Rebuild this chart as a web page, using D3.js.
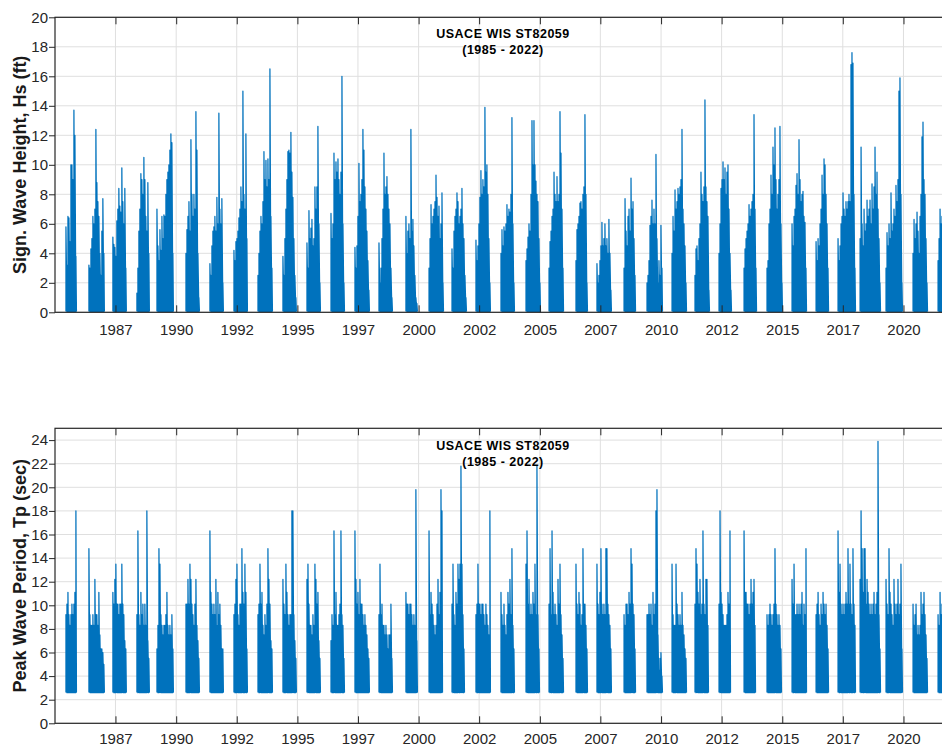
<!DOCTYPE html>
<html>
<head>
<meta charset="utf-8">
<script src="https://cdn.jsdelivr.net/npm/d3@7"></script>
<style>
  html, body { margin: 0; padding: 0; background: #fff; }
  svg { display: block; }
  text { font-family: Arial, "Liberation Sans", Helvetica, sans-serif; }
</style>
</head>
<body>
<svg id="chart" width="942" height="747"></svg>
<script>
// USACE WIS station ST82059 hindcast, ice-free seasons 1985-2021.
// Each season: start date, then one maximum value per 15-day window.
const SAMPLE_DAYS = 15;

const seasonStart = [
  "1985-06-15", "1986-05-27", "1987-05-23", "1988-05-19", "1989-03-17",
  "1990-05-28", "1991-05-24", "1992-05-20", "1993-05-17", "1994-05-28",
  "1995-05-25", "1996-05-21", "1997-05-17", "1998-05-14", "1999-06-24",
  "2000-06-06", "2001-05-18", "2002-05-14", "2003-05-26", "2004-06-06",
  "2005-05-19", "2006-06-29", "2007-05-11", "2008-06-22", "2009-06-03",
  "2010-06-15", "2011-05-27", "2012-05-23", "2013-06-04", "2014-05-16",
  "2015-05-28", "2016-05-24", "2017-04-20", "2018-03-18", "2019-04-13",
  "2020-05-24", "2021-06-05"
];

// Significant wave height Hs (ft), 15-day maxima
const hsSeason = [
  [5.8, 3.2, 6.5, 6.4, 4.8, 10.0, 10.0, 9.0, 13.7, 12.0, 3.8],
  [3.2, 3.0, 4.3, 5.0, 6.5, 6.0, 7.0, 12.4, 8.8, 7.5, 6.5, 4.0, 2.5, 5.5, 7.7, 4.0],
  [5.1, 4.6, 4.4, 3.8, 6.2, 7.0, 8.4, 7.2, 6.8, 9.8, 7.5, 6.0, 8.4, 3.0],
  [1.3, 3.0, 5.5, 7.0, 9.4, 9.0, 8.0, 10.5, 9.0, 6.5, 5.5, 8.8, 4.0],
  [7.0, 4.5, 3.5, 5.6, 4.2, 6.5, 5.0, 6.6, 6.5, 8.0, 9.0, 9.5, 10.0, 11.0, 12.1, 11.5, 4.0],
  [4.0, 5.6, 6.5, 7.5, 5.5, 11.7, 8.0, 6.5, 8.0, 7.0, 13.6, 11.0, 4.0, 1.0],
  [3.3, 2.5, 4.5, 5.5, 5.8, 6.5, 5.5, 7.8, 6.0, 13.5, 7.0, 6.0, 7.7, 2.0],
  [4.2, 3.5, 4.8, 5.0, 5.5, 6.4, 7.0, 8.5, 7.5, 15.0, 8.0, 7.0, 12.1, 5.0],
  [2.5, 4.0, 5.5, 6.5, 6.0, 7.5, 10.9, 9.0, 10.3, 8.5, 10.4, 9.0, 16.5, 6.5, 3.0],
  [3.8, 2.5, 5.0, 7.0, 9.0, 10.9, 11.0, 10.8, 12.2, 9.5, 7.8, 5.0, 2.5, 1.0],
  [4.7, 3.0, 6.9, 5.0, 5.7, 6.3, 4.5, 5.0, 8.5, 7.0, 8.5, 12.6, 6.0, 2.0],
  [6.7, 5.0, 6.0, 10.8, 9.0, 10.2, 9.5, 10.4, 9.0, 8.0, 9.5, 16.0, 6.0, 2.0],
  [4.4, 3.0, 4.5, 6.5, 10.1, 7.5, 8.0, 9.0, 12.4, 11.0, 8.5, 7.0, 5.5, 3.5, 1.5],
  [4.7, 2.0, 3.0, 5.0, 7.0, 10.8, 8.0, 8.5, 9.2, 8.0, 7.0, 6.0, 3.0, 1.0],
  [6.5, 4.0, 5.5, 6.0, 5.0, 12.4, 5.5, 6.3, 4.5, 2.5, 1.0, 0.6],
  [3.0, 5.0, 7.3, 6.0, 6.5, 7.0, 7.5, 9.3, 7.8, 6.5, 7.2, 5.0, 6.0, 8.1, 2.0],
  [4.3, 3.0, 5.5, 6.5, 7.0, 8.1, 7.5, 6.0, 6.5, 7.0, 8.4, 6.0, 5.0, 2.5, 1.0],
  [4.9, 3.5, 4.5, 6.0, 7.8, 9.6, 8.0, 9.0, 8.5, 13.9, 9.5, 10.0, 8.0, 5.0, 2.0],
  [4.0, 5.6, 4.5, 5.8, 5.5, 6.0, 7.3, 6.5, 7.0, 6.8, 8.0, 13.2, 6.0, 2.0],
  [3.5, 4.3, 5.1, 6.0, 5.5, 8.0, 13.0, 10.0, 13.0, 10.0, 8.9, 8.0, 7.5, 5.0, 2.0],
  [3.0, 4.8, 5.5, 6.5, 7.0, 9.5, 8.0, 7.5, 9.2, 7.5, 8.0, 13.6, 10.8, 7.0, 3.0],
  [3.5, 5.6, 6.0, 6.5, 7.4, 7.5, 7.0, 8.0, 8.5, 13.4, 8.0, 2.0],
  [3.3, 2.0, 2.5, 3.5, 4.5, 6.1, 4.5, 5.0, 6.0, 4.5, 5.0, 4.0, 6.3, 4.0, 1.5],
  [3.0, 7.7, 5.5, 4.5, 6.5, 7.0, 5.5, 9.1, 7.0, 7.5, 5.0, 2.5],
  [2.0, 2.5, 3.5, 5.9, 6.5, 7.6, 6.0, 7.0, 6.0, 10.7, 5.0, 2.0, 3.5, 2.5, 5.9, 3.0],
  [4.0, 6.5, 5.5, 8.3, 7.0, 7.5, 8.4, 8.0, 8.5, 9.0, 12.4, 7.0, 6.0, 4.5, 2.0],
  [2.5, 4.3, 4.5, 3.5, 5.0, 6.0, 9.5, 8.0, 7.5, 8.5, 14.4, 8.5, 7.5, 6.5, 1.5],
  [4.0, 6.0, 8.4, 9.0, 10.2, 9.0, 9.8, 8.0, 9.5, 10.0, 7.0, 4.0, 1.5],
  [3.0, 4.3, 5.0, 5.5, 6.0, 7.3, 6.5, 7.0, 7.5, 8.0, 13.4, 7.0, 3.0],
  [3.0, 3.5, 6.0, 7.0, 9.3, 8.0, 11.2, 10.0, 12.5, 9.0, 7.0, 8.0, 9.0, 12.6, 6.0, 2.0],
  [6.0, 4.5, 6.5, 7.0, 8.6, 9.4, 8.0, 11.7, 9.0, 7.5, 8.0, 8.2, 6.5, 6.1, 3.0],
  [4.8, 3.5, 5.0, 4.5, 6.0, 7.0, 9.3, 8.0, 10.4, 10.0, 8.0, 6.0, 3.0],
  [5.0, 3.5, 4.5, 6.0, 6.5, 8.1, 7.0, 6.5, 7.5, 7.0, 7.5, 8.0, 7.5, 16.8, 17.6, 16.9, 8.0, 3.0],
  [5.0, 11.2, 6.0, 4.5, 7.0, 5.5, 6.0, 7.6, 6.5, 7.0, 7.6, 6.0, 8.7, 7.0, 8.5, 11.2, 8.0, 9.5, 7.0, 5.0, 2.0],
  [3.0, 5.4, 4.5, 6.0, 5.0, 8.1, 5.5, 6.0, 7.0, 6.5, 8.6, 7.5, 9.0, 15.0, 15.9, 8.0, 2.0],
  [4.0, 6.3, 5.0, 6.0, 6.8, 5.5, 4.0, 6.5, 8.0, 11.9, 12.9, 9.0, 8.0, 5.0, 2.0],
  [3.5, 5.0, 7.0, 6.0, 6.5]
];

// Peak wave period Tp (sec), 15-day maxima
const tpSeason = [
  [9.2, 10.1, 11.1, 9.2, 8.3, 9.2, 10.1, 9.2, 10.1, 11.1, 18.0],
  [14.8, 9.2, 8.3, 8.3, 9.2, 8.3, 12.2, 9.2, 9.2, 8.3, 11.1, 7.5, 6.3, 6.3, 6.0, 5.0],
  [11.1, 10.1, 12.2, 13.5, 10.1, 10.1, 9.2, 10.1, 10.1, 13.5, 10.1, 9.2, 7.0, 6.3],
  [9.2, 16.3, 9.2, 8.3, 11.1, 9.2, 10.1, 8.3, 10.1, 8.3, 18.0, 7.0, 5.5],
  [6.3, 8.3, 14.8, 13.5, 9.2, 8.3, 7.5, 8.3, 8.3, 9.2, 11.1, 8.3, 7.5, 8.3, 7.5, 9.2, 6.3],
  [10.1, 10.1, 12.2, 10.1, 13.5, 12.2, 10.1, 9.2, 8.3, 10.1, 12.2, 8.3, 7.0, 5.5],
  [16.3, 11.1, 10.1, 9.2, 10.1, 9.2, 12.2, 8.3, 11.1, 9.2, 10.1, 8.3, 6.3, 6.3],
  [9.2, 10.1, 12.2, 13.5, 9.2, 8.3, 10.1, 10.1, 14.8, 11.1, 10.1, 13.5, 11.1, 6.3],
  [9.2, 10.1, 13.5, 10.1, 11.1, 8.3, 7.5, 9.2, 8.3, 10.1, 14.8, 12.2, 10.1, 7.0, 6.3],
  [12.2, 10.1, 9.2, 13.5, 11.1, 9.2, 8.3, 9.2, 9.2, 18.0, 18.0, 9.2, 7.0, 5.5],
  [12.2, 13.5, 10.1, 8.3, 8.3, 7.5, 9.2, 8.3, 13.5, 12.2, 10.1, 11.1, 7.0, 5.5],
  [7.0, 9.2, 8.3, 16.3, 9.2, 11.1, 8.3, 8.3, 9.2, 10.1, 16.3, 9.2, 8.3, 5.5],
  [16.3, 12.2, 10.1, 11.1, 9.2, 12.2, 10.1, 10.1, 9.2, 8.3, 9.2, 8.3, 7.5, 6.3, 5.5],
  [9.2, 13.5, 9.2, 10.1, 8.3, 8.3, 7.5, 8.3, 7.5, 6.3, 7.5, 7.5, 10.1, 5.5],
  [11.1, 10.1, 10.1, 9.2, 10.1, 10.1, 9.2, 8.3, 9.2, 8.3, 19.8, 7.0],
  [16.3, 9.2, 11.1, 10.1, 9.2, 8.3, 7.5, 8.3, 10.1, 12.2, 9.2, 11.1, 19.8, 18.0],
  [10.1, 13.5, 9.2, 8.3, 11.1, 10.1, 13.5, 12.2, 13.5, 21.8, 13.5, 9.2, 6.3],
  [9.2, 10.1, 13.5, 10.1, 10.1, 9.2, 10.1, 10.1, 9.2, 8.3, 10.1, 9.2, 8.3, 7.5, 18.0],
  [11.1, 9.2, 8.3, 10.1, 8.3, 7.5, 9.2, 11.1, 10.1, 12.2, 9.2, 14.8, 8.3, 6.3],
  [13.5, 16.3, 10.1, 12.2, 9.2, 10.1, 9.2, 11.1, 10.1, 13.5, 9.2, 21.8, 9.2, 6.3],
  [10.1, 14.8, 9.2, 16.3, 11.1, 9.2, 10.1, 9.2, 8.3, 12.2, 10.1, 13.5, 9.2, 7.5, 5.5],
  [13.5, 10.1, 9.2, 11.1, 10.1, 8.3, 9.2, 14.8, 10.1, 10.1, 8.3, 6.3],
  [13.5, 10.1, 9.2, 11.1, 14.8, 10.1, 9.2, 10.1, 9.2, 14.8, 14.8, 10.1, 9.2, 8.3, 6.3],
  [9.2, 8.3, 10.1, 10.1, 9.2, 11.1, 10.1, 14.8, 13.5, 10.1, 9.2, 6.3],
  [9.2, 9.2, 10.1, 9.2, 10.1, 8.3, 11.1, 9.2, 10.1, 18.0, 19.8, 7.5, 4.5, 5.5, 6.0, 4.0],
  [13.5, 9.2, 8.3, 8.3, 13.5, 10.1, 9.2, 8.3, 9.2, 8.3, 11.1, 8.3, 7.5, 6.3, 5.5],
  [10.1, 14.8, 13.5, 11.1, 10.1, 12.2, 9.2, 10.1, 16.3, 10.1, 9.2, 12.2, 12.2, 8.3],
  [10.1, 18.0, 11.1, 10.1, 9.2, 8.3, 8.3, 8.3, 9.2, 11.1, 10.1, 16.3],
  [16.3, 11.1, 11.1, 10.1, 10.1, 9.2, 10.1, 12.2, 10.1, 11.1, 12.2, 8.3],
  [9.2, 8.3, 9.2, 10.1, 9.2, 8.3, 9.2, 10.1, 14.8, 10.1, 9.2, 8.3, 9.2, 8.3, 6.3],
  [12.2, 10.1, 13.5, 9.2, 9.2, 10.1, 9.2, 10.1, 9.2, 10.1, 11.1, 8.3, 10.1, 9.2, 14.8],
  [9.2, 10.1, 11.1, 9.2, 8.3, 10.1, 9.2, 11.1, 10.1, 9.2, 10.1, 8.3, 6.3],
  [16.3, 11.1, 13.5, 10.1, 9.2, 10.1, 9.2, 10.1, 11.1, 10.1, 14.8, 10.1, 13.5, 10.1, 9.2, 14.8, 10.1, 8.3],
  [12.2, 18.0, 14.8, 11.1, 14.8, 14.8, 10.1, 12.2, 11.1, 10.1, 9.2, 10.1, 9.2, 10.1, 11.1, 9.2, 10.1, 11.1, 23.9, 9.2, 6.3],
  [12.2, 10.1, 9.2, 14.8, 11.1, 10.1, 9.2, 8.3, 12.2, 10.1, 9.2, 10.1, 12.2, 9.2, 10.1, 13.5, 6.3],
  [10.1, 8.3, 9.2, 10.1, 7.5, 8.3, 7.5, 8.3, 11.1, 9.2, 10.1, 11.1, 9.2, 7.5, 5.5],
  [9.2, 8.3, 11.1, 9.2, 10.1]
];

// Lowest value reached within each 15-day window
const hsFloor = 0.05;
const tpFloor = 2.6;

// Time axis ticks
const xTickDates = [
  "1987-07-01", "1990-01-01", "1992-07-01", "1995-01-01", "1997-07-01",
  "2000-01-01", "2002-07-01", "2005-01-01", "2007-07-01", "2010-01-01",
  "2012-07-01", "2015-01-01", "2017-07-01", "2020-01-01"
];
const xTickLabels = ["1987", "1990", "1992", "1995", "1997", "2000", "2002",
  "2005", "2007", "2010", "2012", "2015", "2017", "2020"];

const hsTicks = [0, 2, 4, 6, 8, 10, 12, 14, 16, 18, 20];
const tpTicks = [0, 2, 4, 6, 8, 10, 12, 14, 16, 18, 20, 22, 24];

const titleLines = ["USACE WIS ST82059", "(1985 - 2022)"];

// ---------------------------------------------------------------------------
const parseDay = d3.utcParse("%Y-%m-%d");
const svg = d3.select("#chart");

const LEFT = 55, RIGHT = 952;
const x = d3.scaleUtc()
  .domain([parseDay("1985-01-01"), parseDay("2022-01-01")])
  .range([LEFT, RIGHT]);
const tickDates = xTickDates.map(parseDay);

const LINE_COLOR = "#0072BD";
const AXIS_COLOR = "#262626";
const GRID_COLOR = "#dfdfdf";

const panels = [
  { top: 17.3, bottom: 312.3, domain: [0, 20], ticks: hsTicks, series: hsSeason,
    floor: hsFloor, label: "Sign. Wave Height, Hs (ft)", titleY: [37.8, 54.3], labelPad: 12.5 },
  { top: 428.3, bottom: 723.3, domain: [0, 25], ticks: tpTicks, series: tpSeason,
    floor: tpFloor, label: "Peak Wave Period, Tp (sec)", titleY: [449.5, 465.5], labelPad: 10.5 }
];

panels.forEach((p, pi) => {
  const y = d3.scaleLinear().domain(p.domain).range([p.bottom, p.top]);
  const g = svg.append("g").attr("class", "panel-" + pi);

  const clipId = "clip-" + pi;
  g.append("clipPath").attr("id", clipId)
    .append("rect")
    .attr("x", LEFT).attr("y", p.top)
    .attr("width", RIGHT - LEFT).attr("height", p.bottom - p.top);

  // grid
  const grid = g.append("g").attr("class", "grid");
  grid.selectAll("line.h").data(p.ticks).join("line")
    .attr("class", "h")
    .attr("x1", LEFT).attr("x2", RIGHT)
    .attr("y1", d => y(d)).attr("y2", d => y(d))
    .attr("stroke", GRID_COLOR).attr("stroke-width", 1);
  grid.selectAll("line.v").data(tickDates).join("line")
    .attr("class", "v")
    .attr("x1", d => x(d)).attr("x2", d => x(d))
    .attr("y1", p.top).attr("y2", p.bottom)
    .attr("stroke", GRID_COLOR).attr("stroke-width", 1);

  // series: per window, a rise from the window minimum to its maximum
  const line = d3.line().x(d => x(d[0])).y(d => y(d[1]));
  const seasonPoints = p.series.map((vals, si) => {
    const start = parseDay(seasonStart[si]);
    const pts = [];
    vals.forEach((v, i) => {
      const t = d3.utcDay.offset(start, i * SAMPLE_DAYS);
      pts.push([t, p.floor]);
      pts.push([t, v]);
    });
    pts.push([d3.utcDay.offset(start, (vals.length - 1) * SAMPLE_DAYS + 8), p.floor]);
    return pts;
  });
  g.append("g").attr("clip-path", `url(#${clipId})`)
    .selectAll("path").data(seasonPoints).join("path")
    .attr("d", line)
    .attr("fill", "none")
    .attr("stroke", LINE_COLOR)
    .attr("stroke-width", 1.25)
    .attr("stroke-linejoin", "round");

  // axes
  const yAxis = d3.axisLeft(y).tickValues(p.ticks).tickSize(6).tickPadding(1);
  const ya = g.append("g").attr("transform", `translate(${LEFT},0)`).call(yAxis);

  const xAxisB = d3.axisBottom(x).tickValues(tickDates)
    .tickFormat((d, i) => xTickLabels[i]).tickSize(-7).tickPadding(p.labelPad);
  const xb = g.append("g").attr("transform", `translate(0,${p.bottom})`).call(xAxisB);

  const xAxisT = d3.axisTop(x).tickValues(tickDates).tickFormat(() => "").tickSize(-7);
  const xt = g.append("g").attr("transform", `translate(0,${p.top})`).call(xAxisT);

  [ya, xb, xt].forEach(a => {
    a.select(".domain").remove();
    a.selectAll("line").attr("stroke", AXIS_COLOR).attr("stroke-width", 1);
    a.selectAll("text")
      .attr("fill", AXIS_COLOR)
      .style("font-size", "15px")
      .style("font-family", "Arial, 'Liberation Sans', Helvetica, sans-serif");
  });

  // box
  g.append("rect")
    .attr("x", LEFT).attr("y", p.top)
    .attr("width", RIGHT - LEFT).attr("height", p.bottom - p.top)
    .attr("fill", "none").attr("stroke", AXIS_COLOR).attr("stroke-width", 1.2);

  // y label
  g.append("text")
    .attr("transform", `translate(26,${(p.top + p.bottom) / 2}) rotate(-90)`)
    .attr("text-anchor", "middle")
    .attr("fill", "#1a1a1a")
    .style("font-size", "18px")
    .style("font-weight", "bold")
    .text(p.label);

  // title
  titleLines.forEach((s, li) => {
    g.append("text")
      .attr("x", 503).attr("y", p.titleY[li])
      .attr("text-anchor", "middle")
      .attr("fill", "#000")
      .style("font-size", "12.5px")
      .style("font-weight", "bold")
      .style("letter-spacing", "0.5px")
      .text(s);
  });
});
</script>
</body>
</html>
